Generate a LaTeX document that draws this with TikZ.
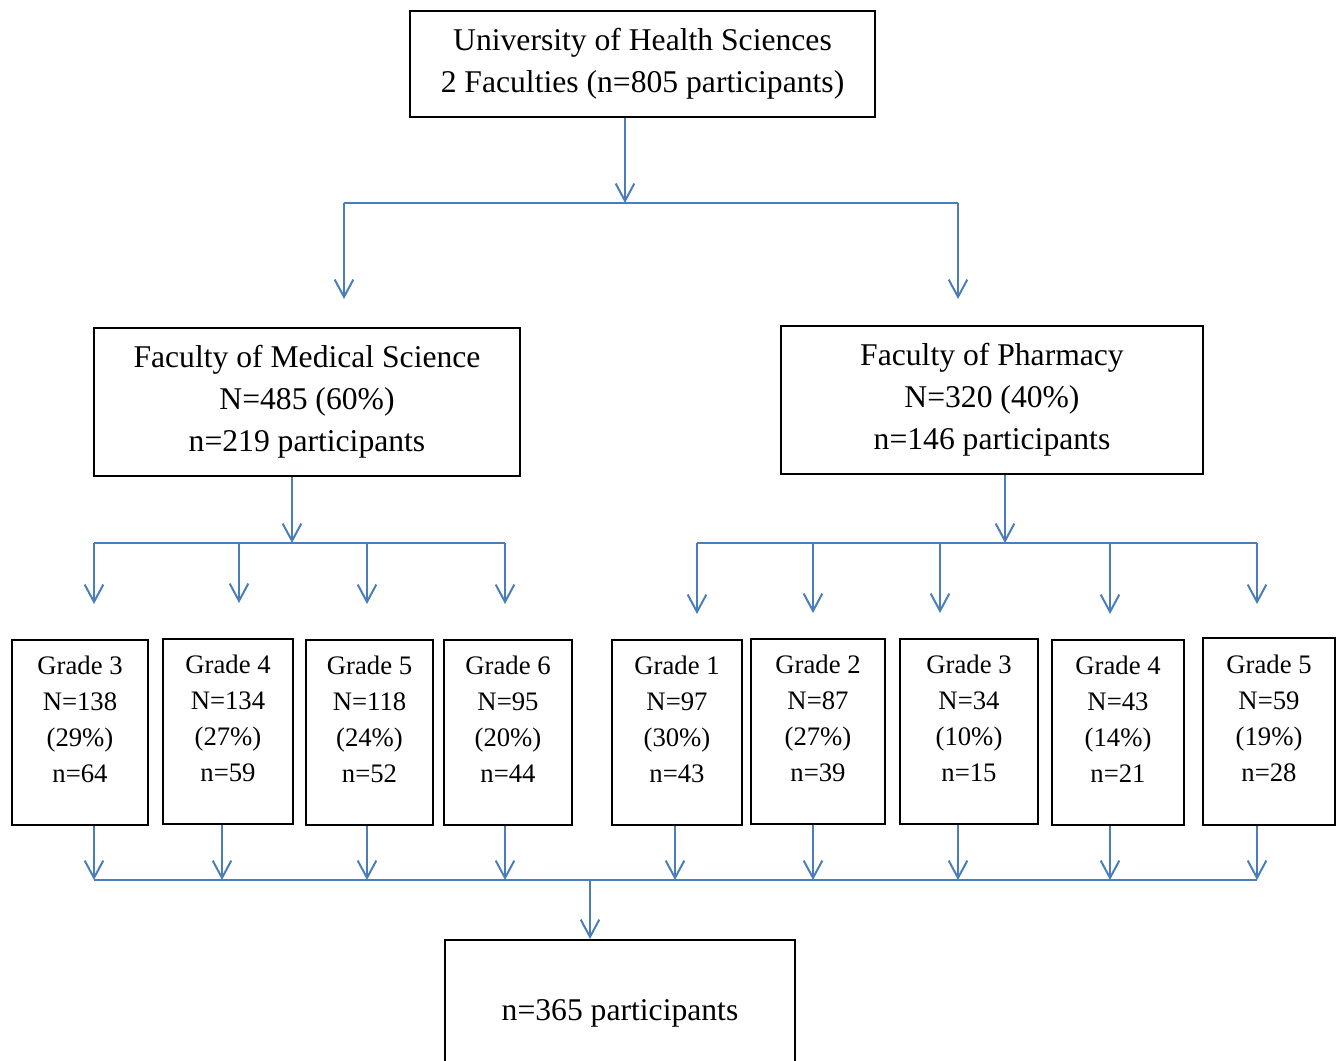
\documentclass[tikz,border=0pt]{standalone}
\usepackage{fontspec}
\setmainfont{Liberation Serif}
\usetikzlibrary{arrows.meta}
\definecolor{linkblue}{HTML}{4A7EBB}
\begin{document}
\begin{tikzpicture}[
    x=0.015cm, y=-0.015cm,
    box/.style={rectangle, draw, line width=0.85pt, inner sep=0pt, align=center,
        font=\fontsize{13.5}{18}\selectfont},
    gbox/.style={box, minimum height=2.775cm, font=\fontsize{11.4}{15.4}\selectfont},
    wire/.style={draw=linkblue, line width=0.85pt},
    arr/.style={wire, -{Straight Barb[length=2.6mm,width=2.8mm]}}
]
    \useasboundingbox (0,0) rectangle (1337,1061);

    \node[box, minimum width=6.975cm, minimum height=1.59cm] (uni) at (642.5,64)
        {University of Health Sciences\\2 Faculties (n=805 participants)};
    \node[box, minimum width=6.39cm, minimum height=2.22cm] (med) at (307,402)
        {Faculty of Medical Science\\N=485 (60\%)\\n=219 participants};
    \node[box, minimum width=6.33cm, minimum height=2.22cm] (pha) at (992,400)
        {Faculty of Pharmacy\\N=320 (40\%)\\n=146 participants};

    \node[gbox, minimum width=2.04cm] (m3) at (80,732.5) {Grade 3\\N=138\\(29\%)\\n=64\\[-4pt]\mbox{}};
    \node[gbox, minimum width=1.95cm] (m4) at (228,731.5) {Grade 4\\N=134\\(27\%)\\n=59\\[-4pt]\mbox{}};
    \node[gbox, minimum width=1.905cm] (m5) at (369.5,732.5) {Grade 5\\N=118\\(24\%)\\n=52\\[-4pt]\mbox{}};
    \node[gbox, minimum width=1.92cm] (m6) at (508,732.5) {Grade 6\\N=95\\(20\%)\\n=44\\[-4pt]\mbox{}};
    \node[gbox, minimum width=1.95cm] (p1) at (677,732.5) {Grade 1\\N=97\\(30\%)\\n=43\\[-4pt]\mbox{}};
    \node[gbox, minimum width=2.01cm] (p2) at (818,731.5) {Grade 2\\N=87\\(27\%)\\n=39\\[-4pt]\mbox{}};
    \node[gbox, minimum width=2.07cm] (p3) at (969,731.5) {Grade 3\\N=34\\(10\%)\\n=15\\[-4pt]\mbox{}};
    \node[gbox, minimum width=1.98cm] (p4) at (1118,732.5) {Grade 4\\N=43\\(14\%)\\n=21\\[-4pt]\mbox{}};
    \node[gbox, minimum width=1.98cm, minimum height=2.805cm] (p5) at (1269,731.5) {Grade 5\\N=59\\(19\%)\\n=28\\[-4pt]\mbox{}};

    \node[box, minimum width=5.25cm, minimum height=2.19cm] (tot) at (620,1013) {n=365 participants};

    % Collegamenti dall'universita alle facolta
    \coordinate (t0) at (625,203);
    \coordinate (tl) at (344,203);
    \coordinate (tr) at (958,203);
    \draw[arr] (uni.south -| t0) -- (t0);
    \draw[wire] (tl) -- (tr);
    \draw[arr, shorten >=0.42cm] (tl) -- (tl |- med.north);
    \draw[arr, shorten >=0.39cm] (tr) -- (tr |- pha.north);

    % Collegamenti dalle facolta ai gradi
    \coordinate (mj) at (292,543);
    \coordinate (pj) at (1005,543);
    \draw[arr] (med.south -| mj) -- (mj);
    \draw[arr] (pha.south -| pj) -- (pj);
    \foreach \g/\x/\s in {m3/94/0.525, m4/239/0.525, m5/367/0.525, m6/505/0.525,
                          p1/697/0.375, p2/813/0.375, p3/940/0.375, p4/1110/0.375, p5/1257/0.495} {
        \coordinate (a\g) at (\x,543);
        \draw[arr, shorten >=\s cm] (a\g) -- (a\g |- \g.north);
    }
    \draw[wire] (am3) -- (am6);
    \draw[wire] (ap1) -- (ap5);

    % Collegamenti verso il totale
    \foreach \g/\x in {m3/94, m4/222, m5/367, m6/505, p1/675, p2/813, p3/958, p4/1110, p5/1257} {
        \coordinate (b\g) at (\x,880);
        \draw[arr] (b\g |- \g.south) -- (b\g);
    }
    \draw[wire] (bm3) -- (bp5);
    \coordinate (bt) at (590,880);
    \draw[arr] (bt) -- (bt |- tot.north);
\end{tikzpicture}
\end{document}
